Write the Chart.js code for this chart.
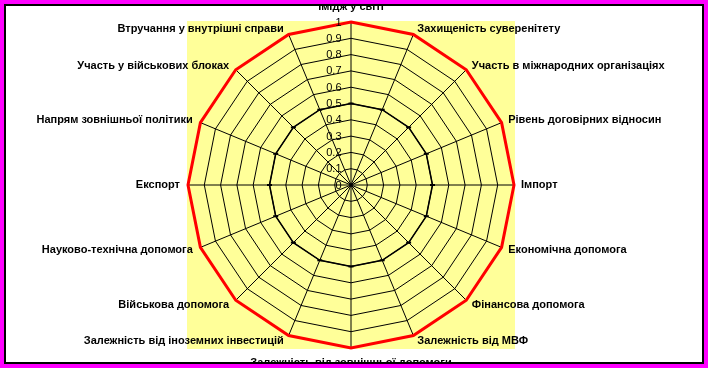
<!DOCTYPE html>
<html>
<head>
<meta charset="utf-8">
<script src="https://cdn.jsdelivr.net/npm/chart.js@4/dist/chart.umd.min.js"></script>
<style>
  html, body { margin: 0; padding: 0; background: #ffffff; }
  #wrap { width: 708px; height: 368px; position: relative; }
</style>
</head>
<body>
<div id="wrap"><canvas id="c" width="708" height="368"></canvas></div>
<script>
// ---- data ----
const categories = [
  'Імідж у світі',
  'Захищеність суверенітету',
  'Участь в міжнародних організаціях',
  'Рівень договірних відносин',
  'Імпорт',
  'Економічна допомога',
  'Фінансова допомога',
  'Залежність від МВФ',
  'Залежність від зовнішньої допомоги',
  'Залежність від іноземних інвестицій',
  'Військова допомога',
  'Науково-технічна допомога',
  'Експорт',
  'Напрям зовнішньої політики',
  'Участь у військових блоках',
  'Втручання у внутрішні справи'
];
const seriesMax = [1, 1, 1, 1, 1, 1, 1, 1, 1, 1, 1, 1, 1, 1, 1, 1];
const seriesActual = [0.5, 0.5, 0.5, 0.5, 0.5, 0.5, 0.5, 0.5, 0.5, 0.5, 0.5, 0.5, 0.5, 0.5, 0.5, 0.5];
const tickLabels = ['0', '0.1', '0.2', '0.3', '0.4', '0.5', '0.6', '0.7', '0.8', '0.9', '1'];

// ---- styling ----
const LABEL_FONT = 'bold 11px "Liberation Sans", Arial, sans-serif';
const TICK_FONT = '11px "Liberation Sans", Arial, sans-serif';

const framePlugin = {
  id: 'frame',
  beforeDraw(chart) {
    const ctx = chart.ctx;
    const s = chart.scales.r;
    ctx.save();
    ctx.fillStyle = '#ffffff';
    ctx.fillRect(0, 0, chart.width, chart.height);
    ctx.fillStyle = '#FFFF99';
    const R = s.drawingArea + 1;
    ctx.fillRect(s.xCenter - R, s.yCenter - R, 2 * R, 2 * R);
    ctx.restore();
  },
  afterDraw(chart) {
    const ctx = chart.ctx;
    const s = chart.scales.r;
    ctx.save();
    // tick labels
    ctx.font = TICK_FONT;
    ctx.fillStyle = '#000000';
    ctx.textAlign = 'right';
    ctx.textBaseline = 'middle';
    s.ticks.forEach((t, i) => {
      const d = s.getDistanceFromCenterForValue(t.value);
      ctx.fillText(tickLabels[i] !== undefined ? tickLabels[i] : String(t.value), s.xCenter - 9.5, s.yCenter - d + 0.5);
    });
    // point labels
    ctx.font = LABEL_FONT;
    const n = categories.length;
    for (let i = 0; i < n; i++) {
      const p = s.getPointPosition(i, s.drawingArea);
      const a = 2 * Math.PI * i / n;
      const sn = Math.sin(a), cs = Math.cos(a);
      if (i === 0) {
        ctx.textAlign = 'center';
        ctx.textBaseline = 'alphabetic';
        ctx.fillText(categories[i], p.x, p.y - 12);
      } else if (i === n / 2) {
        ctx.textAlign = 'center';
        ctx.textBaseline = 'alphabetic';
        ctx.fillText(categories[i], p.x, p.y + 18);
      } else {
        ctx.textBaseline = 'middle';
        const dx = 2 + 5 * Math.abs(sn);
        if (sn > 0) {
          ctx.textAlign = 'left';
          ctx.fillText(categories[i], p.x + dx, p.y - 6 * cs);
        } else {
          ctx.textAlign = 'right';
          ctx.fillText(categories[i], p.x - dx - 1, p.y - 6 * cs);
        }
      }
    }
    // border
    ctx.fillStyle = '#FF00FF';
    const W = chart.width, H = chart.height;
    ctx.fillRect(0, 0, W, 4);
    ctx.fillRect(0, H - 4, W, 4);
    ctx.fillRect(0, 0, 4, H);
    ctx.fillRect(W - 4, 0, 4, H);
    ctx.strokeStyle = '#000000';
    ctx.lineWidth = 2;
    ctx.strokeRect(5, 5, W - 10, H - 10);
    ctx.restore();
  }
};

new Chart(document.getElementById('c'), {
  type: 'radar',
  data: {
    labels: categories,
    datasets: [
      {
        label: 'max',
        data: seriesMax,
        borderColor: '#FF0000',
        borderWidth: 3,
        fill: false,
        pointRadius: 0,
        pointHoverRadius: 0
      },
      {
        label: 'actual',
        data: seriesActual,
        borderColor: '#000000',
        borderWidth: 1.5,
        fill: false,
        pointStyle: 'line',
        pointRadius: 2.5,
        pointBorderWidth: 2,
        pointBorderColor: '#000000',
        pointBackgroundColor: '#000000'
      }
    ]
  },
  options: {
    responsive: false,
    animation: false,
    devicePixelRatio: 1,
    layout: { padding: { left: 188, right: 194, top: 22, bottom: 20 } },
    plugins: {
      legend: { display: false },
      tooltip: { enabled: false },
      title: { display: false }
    },
    scales: {
      r: {
        min: 0,
        max: 1,
        ticks: { stepSize: 0.1, display: false },
        grid: { color: '#000000', lineWidth: 1, circular: false },
        angleLines: { color: '#000000', lineWidth: 1 },
        pointLabels: { display: false }
      }
    }
  },
  plugins: [framePlugin]
});
</script>
</body>
</html>
